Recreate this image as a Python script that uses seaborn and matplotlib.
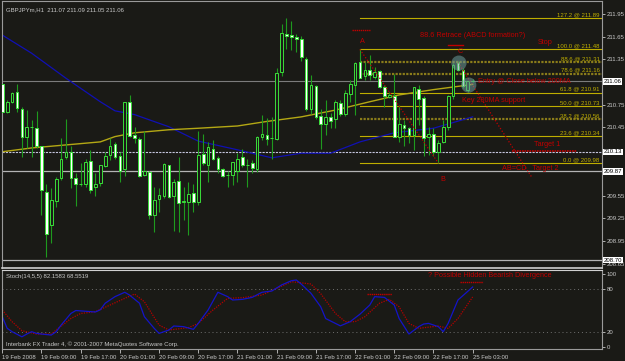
import matplotlib
matplotlib.use('Agg')
import matplotlib.pyplot as plt
import matplotlib.transforms as mtransforms
import seaborn as sns
import pandas as pd
import numpy as np

# GBPJPYm H1 candles (bar index 0 = 19 Feb 2008 01:00)
bar_open = [211.02, 210.66, 210.78, 210.92, 210.70, 210.32, 210.45, 210.44, 210.20, 209.60,
            209.16, 209.48, 209.78, 210.06, 210.12, 209.78, 209.70, 209.70, 210.01, 209.66,
            209.72, 209.94, 210.09, 210.23, 210.07, 209.90, 210.78, 210.35, 210.30, 209.82,
            209.86, 209.30, 209.51, 209.54, 209.95, 209.55, 209.74, 209.46, 209.47, 209.58,
            209.46, 210.10, 209.96, 210.17, 210.05, 209.90, 209.82, 209.82, 209.87, 210.06,
            209.95, 209.98, 209.90, 210.32, 210.35, 210.31, 210.30, 211.18, 211.69, 211.67,
            211.64, 211.62, 211.36, 210.69, 211.00, 210.60, 210.49, 210.59, 210.56, 210.77,
            210.63, 210.89, 211.01, 211.32, 211.13, 211.21, 211.12, 211.19, 210.99, 210.85,
            210.86, 210.32, 210.48, 210.44, 210.35, 210.96, 210.84, 210.32, 210.37, 210.12,
            210.26, 210.46, 210.86, 211.31, 211.21, 210.95, 211.07]
bar_high = [211.03, 210.81, 210.92, 211.03, 210.72, 210.68, 210.55, 210.67, 210.21, 209.71,
            209.65, 209.80, 210.31, 210.56, 210.20, 209.85, 209.98, 210.03, 210.15, 209.85,
            209.95, 210.13, 210.31, 210.26, 210.12, 210.79, 210.88, 210.46, 210.32, 210.40,
            209.87, 209.67, 209.65, 209.98, 209.96, 209.77, 210.06, 209.67, 209.73, 209.70,
            210.40, 210.37, 210.26, 210.28, 210.07, 209.91, 209.87, 210.00, 210.11, 210.16,
            210.04, 210.02, 210.34, 210.62, 210.57, 210.59, 211.23, 211.82, 211.90, 211.85,
            211.69, 211.66, 211.38, 211.14, 211.01, 210.69, 210.81, 210.64, 210.81, 210.81,
            210.95, 211.08, 211.31, 211.48, 211.31, 211.41, 211.25, 211.21, 211.01, 210.92,
            211.15, 210.75, 210.55, 210.46, 210.99, 211.01, 210.86, 210.46, 210.44, 210.29,
            210.55, 210.88, 211.30, 211.33, 211.23, 211.07, 211.09]
bar_low = [210.65, 210.64, 210.77, 210.66, 210.06, 210.18, 210.06, 210.18, 209.30, 208.74,
           208.93, 209.40, 209.76, 210.03, 209.65, 209.41, 209.68, 209.67, 209.59, 209.55,
           209.68, 209.93, 210.02, 210.04, 209.73, 209.81, 210.33, 210.24, 209.80, 209.81,
           209.24, 209.07, 209.34, 209.52, 209.52, 209.08, 209.07, 209.23, 209.03, 209.33,
           209.43, 209.96, 209.73, 210.02, 209.85, 209.80, 209.67, 209.69, 209.73, 209.93,
           209.66, 209.85, 209.86, 210.29, 210.22, 210.04, 210.29, 211.13, 211.48, 211.47,
           211.45, 211.33, 210.67, 210.63, 210.56, 210.16, 210.35, 210.44, 210.44, 210.60,
           210.60, 210.79, 210.62, 211.10, 211.08, 211.08, 211.09, 210.97, 210.72, 210.84,
           210.32, 210.26, 210.20, 210.24, 210.15, 210.48, 210.07, 210.09, 210.07, 209.98,
           210.24, 210.42, 210.82, 211.20, 210.97, 210.92, 211.05]
bar_close = [210.66, 210.78, 210.91, 210.71, 210.32, 210.45, 210.46, 210.21, 209.63, 209.05,
             209.49, 209.77, 210.04, 210.12, 209.78, 209.70, 209.70, 210.00, 209.63, 209.71,
             209.95, 210.07, 210.21, 210.06, 209.88, 210.78, 210.34, 210.31, 209.81, 209.88,
             209.29, 209.49, 209.56, 209.97, 209.53, 209.73, 209.45, 209.48, 209.57, 209.47,
             210.09, 209.98, 210.19, 210.04, 209.90, 209.81, 209.82, 209.99, 210.04, 209.95,
             209.96, 209.91, 210.32, 210.36, 210.30, 210.31, 211.17, 211.70, 211.66, 211.65,
             211.62, 211.38, 210.69, 211.01, 210.59, 210.49, 210.59, 210.54, 210.78, 210.63,
             210.90, 211.03, 211.30, 211.11, 211.21, 211.14, 211.18, 210.99, 210.86, 210.88,
             210.33, 210.49, 210.44, 210.35, 210.98, 210.82, 210.31, 210.37, 210.12, 210.25,
             210.46, 210.86, 211.27, 211.21, 211.00, 211.06, 211.06]

# moving averages (bar, price)
ma_blue_bar = [0, 6, 13, 20, 23, 27, 34, 40, 47, 55, 61, 67, 73, 80, 88, 96]
ma_blue_val = [211.67, 211.43, 211.10, 210.79, 210.67, 210.62, 210.46, 210.27, 210.17, 210.05,
               210.11, 210.11, 210.26, 210.38, 210.44, 210.59]
ma_200_bar = [0, 6, 13, 20, 23, 27, 34, 40, 48, 54, 61, 68, 75, 81, 88, 95, 96]
ma_200_val = [210.13, 210.18, 210.22, 210.26, 210.33, 210.38, 210.42, 210.44, 210.47, 210.53,
              210.59, 210.68, 210.79, 210.88, 210.95, 211.01, 211.02]

# fibonacci retracement from B (209.98) to A (211.48)
fib_pct = ['127.2', '100.0', '88.6', '78.6', '61.8', '50.0', '38.2', '23.6', '0.0']
fib_price = [211.89, 211.48, 211.31, 211.16, 210.91, 210.73, 210.56, 210.34, 209.98]
fib_dotted = ['88.6', '78.6', '38.2']

# stochastic (14,5,5)
stoch_main_bar = [0, 1, 2, 4, 5, 6, 7, 8, 10, 11, 12, 14, 15, 17, 19, 20, 21, 23, 25, 26, 28, 29,
                  31, 32, 34, 35, 37, 39, 40, 42, 44, 46, 47, 49, 51, 53, 55, 57, 59, 60, 61, 63,
                  65, 66, 69, 71, 73, 75, 76, 78, 80, 81, 83, 85, 86, 87, 89, 90, 91, 93, 96]
stoch_main_val = [41.5, 25.6, 21, 14, 17.8, 21, 18.7, 17.8, 16.4, 21, 30, 46, 50, 49, 48, 51, 60,
                  69, 75, 71, 60, 41.5, 25.6, 18.7, 23.3, 28.8, 27.9, 24.2, 32.4, 50.7, 75, 69,
                  64.4, 65.3, 68, 75, 76.7, 85, 90.8, 91.8, 86.3, 73.6, 55, 39, 29, 34.7, 45,
                  57.5, 69, 68, 57.5, 39, 17.8, 27.9, 31.5, 32.4, 27.9, 21, 32.4, 64.4, 82.2]
stoch_sig_bar = [0, 2, 4, 7, 10, 11, 14, 16, 19, 22, 25, 27, 29, 32, 34, 38, 40, 43, 46, 49, 53,
                 56, 59, 63, 65, 68, 70, 72, 74, 77, 79, 81, 83, 85, 89, 91, 93, 96]
stoch_sig_val = [50.7, 34.7, 22.4, 17.8, 17.8, 23.3, 39, 46, 48.4, 57.5, 66.7, 72.6, 62, 30, 23.3,
                 26.5, 32.4, 50.7, 66.7, 67.6, 71.2, 80.4, 89.5, 86.3, 73, 46, 34.7, 34.7, 41.5,
                 60, 65.3, 55, 32.4, 25.6, 28.8, 25.6, 39, 68.6]

tick_bars = [0, 8, 16, 24, 32, 40, 48, 56, 64, 72, 80, 88, 96]
tick_text = ['19 Feb 2008', '19 Feb 09:00', '19 Feb 17:00', '20 Feb 01:00', '20 Feb 09:00',
             '20 Feb 17:00', '21 Feb 01:00', '21 Feb 09:00', '21 Feb 17:00', '22 Feb 01:00',
             '22 Feb 09:00', '22 Feb 17:00', '25 Feb 03:00']
price_ticks = [211.95, 211.65, 211.35, 210.75, 210.45, 209.55, 209.25, 208.95, 208.65]
price_boxes = [211.06, 210.13, 209.87, 208.70]

BG = '#1a1a16'
FG = '#c8c8c8'
RED = '#c00000'
FIB = '#bfae00'
WICK = '#1e9a1e'
EDGE = '#3ade3a'
SMALL = 4.3

plt.rcParams['font.family'] = ['Liberation Sans', 'DejaVu Sans']

fig = plt.figure(figsize=(6.25, 3.61), dpi=100, facecolor=BG)
ax = fig.add_axes([2/625, 1 - 268/361, 600/625, 267/361], facecolor=BG)
ax2 = fig.add_axes([2/625, 1 - 349/361, 600/625, 79/361], facecolor=BG)
xlim = (-0.06, 122.4)

candles = pd.DataFrame({'bar': np.arange(len(bar_open)), 'open': bar_open, 'high': bar_high,
                        'low': bar_low, 'close': bar_close})
up = candles.close >= candles.open

# horizontal price lines
ax.axhline(211.06, color='#7c7c7c', lw=0.8, zorder=1)
ax.axhline(210.13, color='#c4c4dc', lw=0.8, ls=(0, (2, 1)), zorder=1)
ax.axhline(209.87, color='#b4b4b4', lw=0.9, zorder=1)
ax.axhline(208.70, color='#b4b4b4', lw=0.9, zorder=1)

# fib levels
for pct, p in zip(fib_pct, fib_price):
    if pct in fib_dotted:
        sns.lineplot(x=[73, xlim[1]], y=[p, p], ax=ax, color='#8a7c1a', lw=1.6,
                     linestyle=(0, (1, 0.6)), zorder=1)
    else:
        sns.lineplot(x=[73, xlim[1]], y=[p, p], ax=ax, color=FIB, lw=0.8, zorder=1)
    ax.text(121.9, p + 0.012, f'{pct} @ {p:.2f}', color=FIB, fontsize=SMALL, ha='right', va='bottom')

# moving averages
sns.lineplot(x=ma_blue_bar, y=ma_blue_val, ax=ax, color='#1010b4', lw=0.9, zorder=2)
sns.lineplot(x=ma_200_bar, y=ma_200_val, ax=ax, color='#b4a814', lw=1.0, zorder=2)

# candles
ax.vlines(candles.bar, candles.low, candles.high, color=WICK, lw=0.8, zorder=3)
ax.bar(candles.bar, (candles.close - candles.open).abs(), bottom=candles[['open', 'close']].min(axis=1),
       width=0.55, color=np.where(up, BG, 'white'), edgecolor=EDGE, linewidth=0.7, zorder=4)

# ABCD pattern
sns.lineplot(x=[73, 89], y=[211.48, 209.98], ax=ax, color=RED, lw=0.9, linestyle=(0, (1, 1.5)), zorder=5)
sns.lineplot(x=[93, 108], y=[211.31, 209.80], ax=ax, color=RED, lw=0.9, linestyle=(0, (1, 1.5)), zorder=5)
sns.lineplot(x=[104, 117.3], y=[210.135, 210.135], ax=ax, color=RED, lw=1.2, linestyle=(0, (1, 0.5)), zorder=5)
ax.plot([71.4, 75], [211.74, 211.74], color=RED, lw=1, ls=(0, (1, 0.5)))
ax.plot([91, 94], [211.54, 211.54], color=RED, lw=1)
ax.scatter([93.2, 95.2], [211.30, 211.01], s=120, color='#6c9c9c', alpha=0.55, edgecolors='none', zorder=6)

ann = dict(color=RED, fontsize=5.2, va='center')
ax.text(73.6, 211.58, 'A', ha='center', **ann)
ax.text(93.4, 211.45, 'C', ha='center', **ann)
ax.text(90.0, 209.76, 'B', ha='center', **ann)
ax.text(95.9, 211.67, '88.6 Retrace (ABCD formation?)', ha='center', **ann)
ax.text(110.8, 211.57, 'Stop', ha='center', **ann)
ax.text(97.1, 211.06, 'Entry @ Close below 200MA', ha='left', **ann)
ax.text(100.3, 210.81, 'Key 200MA support', ha='center', **ann)
ax.text(111.2, 210.22, 'Target 1', ha='center', **ann)
ax.text(107.7, 209.91, 'AB=CD   Target 2', ha='center', **ann)

ax.text(0.007, 0.975, 'GBPJPYm,H1  211.07 211.09 211.05 211.06', transform=ax.transAxes,
        color=FG, fontsize=SMALL, va='top', ha='left')

ax.set_xlim(*xlim)
ax.set_ylim(208.595, 212.12)
ax.set_xticks([])
ax.yaxis.tick_right()
ax.set_yticks(price_ticks)
ax.set_yticklabels([f'{p:.2f}' for p in price_ticks])
ax.tick_params(axis='y', colors=FG, labelsize=SMALL, length=2, pad=1.5, width=0.6)
blend = mtransforms.blended_transform_factory(ax.transAxes, ax.transData)
for p in price_boxes:
    ax.text(1.003, p, f'{p:.2f}', transform=blend, color='black', fontsize=SMALL, va='center', ha='left',
            bbox=dict(facecolor='white', edgecolor='none', pad=0.5))

# stochastic panel
ax2.axhline(80, color='#707070', lw=0.7, ls=(0, (1, 3)))
ax2.axhline(20, color='#707070', lw=0.7, ls=(0, (1, 3)))
sns.lineplot(x=stoch_sig_bar, y=stoch_sig_val, ax=ax2, color='#b40000', lw=0.9, linestyle=(0, (1, 1)))
sns.lineplot(x=stoch_main_bar, y=stoch_main_val, ax=ax2, color='#1414c8', lw=0.9)
ax2.plot([74.5, 79.5], [72, 72], color=RED, lw=1, ls=(0, (1, 0.5)))
ax2.plot([93.4, 98.2], [89, 89], color=RED, lw=1, ls=(0, (1, 0.5)))
ax2.text(0.007, 0.92, 'Stoch(14,5,5) 82.1583 68.5519', transform=ax2.transAxes, color=FG,
         fontsize=SMALL, va='center', ha='left')
ax2.text(0.007, 0.06, 'Interbank FX Trader 4, \u00a9 2001-2007 MetaQuotes Software Corp.',
         transform=ax2.transAxes, color=FG, fontsize=SMALL, va='center', ha='left')
ax2.text(99.5, 98, '? Possible Hidden Bearish Divergence', color=RED, fontsize=5.2, ha='center', va='center')
ax2.set_xlim(*xlim)
ax2.set_ylim(-2.7, 105.5)
ax2.yaxis.tick_right()
ax2.set_yticks([100, 80, 20, 0])
ax2.tick_params(axis='y', colors=FG, labelsize=SMALL, length=2, pad=1.5, width=0.6)
ax2.set_xticks(tick_bars)
ax2.set_xticklabels(tick_text, ha='left')
ax2.tick_params(axis='x', colors=FG, labelsize=SMALL, length=3, pad=1, width=0.6)

for a in (ax, ax2):
    a.set_xlabel('')
    a.set_ylabel('')
    for s in a.spines.values():
        s.set_color('#9a9a9a')
        s.set_linewidth(0.8)
ax.spines['bottom'].set_color('#d0d0d0')
ax.spines['bottom'].set_linewidth(1.2)
ax2.spines['top'].set_color('#d0d0d0')

fig.savefig('out.png', dpi=100, facecolor=BG)
